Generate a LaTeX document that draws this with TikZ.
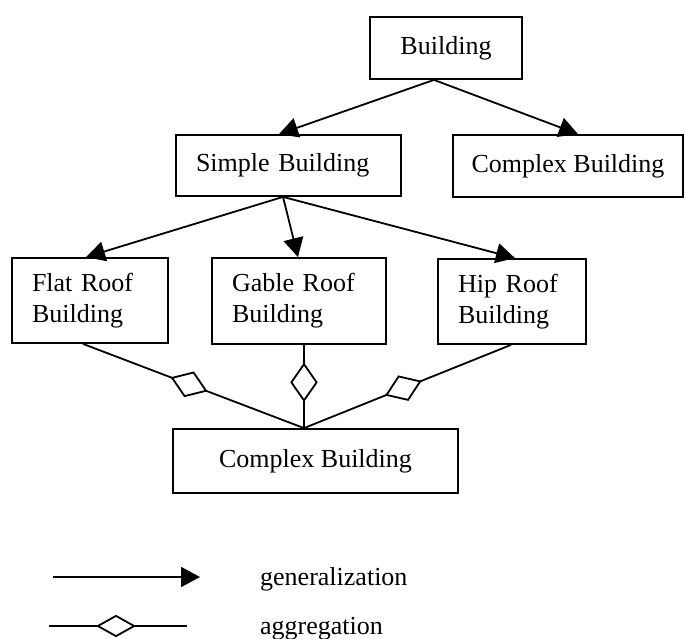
\documentclass[tikz,border=0pt]{standalone}
\usepackage{fontspec}
\setmainfont{Liberation Serif}
\usetikzlibrary{arrows.meta,shapes.geometric,calc}
\begin{document}
\begin{tikzpicture}[x=1pt,y=-1pt,
  box/.style={draw,line width=1.8pt,inner sep=0pt,font=\fontsize{26}{31}\selectfont,align=center},
  mbox/.style={box,align=left,inner xsep=20pt},
  gen/.style={line width=1.8pt,-{Triangle[length=19pt,width=20pt]}},
  agg/.style={line width=1.8pt},
  dia/.style={diamond,draw,line width=1.8pt,fill=white,inner sep=0pt,minimum width=37pt,minimum height=26pt},
  lbl/.style={font=\fontsize{26}{31}\selectfont,inner sep=0pt}]
\useasboundingbox (0,0) rectangle (686,639);

% boxes
\node[box,minimum width=152pt,minimum height=62pt] (bld) at (446,48) {Building};
\node[mbox,text width=185pt,minimum height=61pt] (simp) at (288.5,165.5) {Simple Building};
\node[box,minimum width=230pt,minimum height=62pt] (cplx) at (568,166) {Complex Building};
\node[mbox,text width=116pt,minimum height=85pt] (flat) at (90,300.5) {Flat Roof\\Building};
\node[mbox,text width=134pt,minimum height=86pt] (gable) at (299,301) {Gable Roof\\Building};
\node[mbox,text width=108pt,minimum height=85pt] (hip) at (512,301.5) {Hip Roof\\Building};
\node[box,minimum width=285pt,minimum height=64pt] (cb) at (315.5,461) {Complex Building};

% connection points
\coordinate (bldS) at ($(bld.south)+(-12,0)$);
\coordinate (simpN) at ($(simp.north)+(-9.5,0)$);
\coordinate (cplxN) at ($(cplx.north)+(10,0)$);
\coordinate (simpS) at ($(simp.south)+(-5.5,0)$);
\coordinate (flatN) at ($(flat.north)+(-4,0)$);
\coordinate (gableN) at ($(gable.north)+(-1,0)$);
\coordinate (hipN) at ($(hip.north)+(3,0)$);
\coordinate (flatS) at ($(flat.south)+(-7,0)$);
\coordinate (gableS) at ($(gable.south)+(5,0)$);
\coordinate (hipS) at ($(hip.south)+(-1,0)$);
\coordinate (cbN) at ($(cb.north)+(-11.5,0)$);

% generalization
\draw[gen] (bldS) -- (simpN);
\draw[gen] (bldS) -- (cplxN);
\draw[gen] (simpS) -- (flatN);
\draw[gen] (simpS) -- (gableN);
\draw[gen] (simpS) -- (hipN);

% aggregation
\draw[agg] (flatS) -- node[dia,sloped,pos=0.48] (d1) {} (cbN);
\draw[agg] (gableS) -- node[dia,sloped,pos=0.45] (d2) {} (cbN);
\draw[agg] (hipS) -- node[dia,sloped,pos=0.52] (d3) {} (cbN);

% legend
\coordinate (g1) at (53,577);
\coordinate (g2) at (200,577);
\draw[gen] (g1) -- (g2);
\node[lbl,anchor=base west] (gl) at (260,585) {generalization};
\coordinate (a1) at (49,626);
\coordinate (a2) at (187,626);
\draw[agg] (a1) -- (a2);
\node[dia,minimum height=21pt] (ad) at (116,626) {};
\node[lbl,anchor=base west] (al) at (260,634) {aggregation};
\end{tikzpicture}
\end{document}
